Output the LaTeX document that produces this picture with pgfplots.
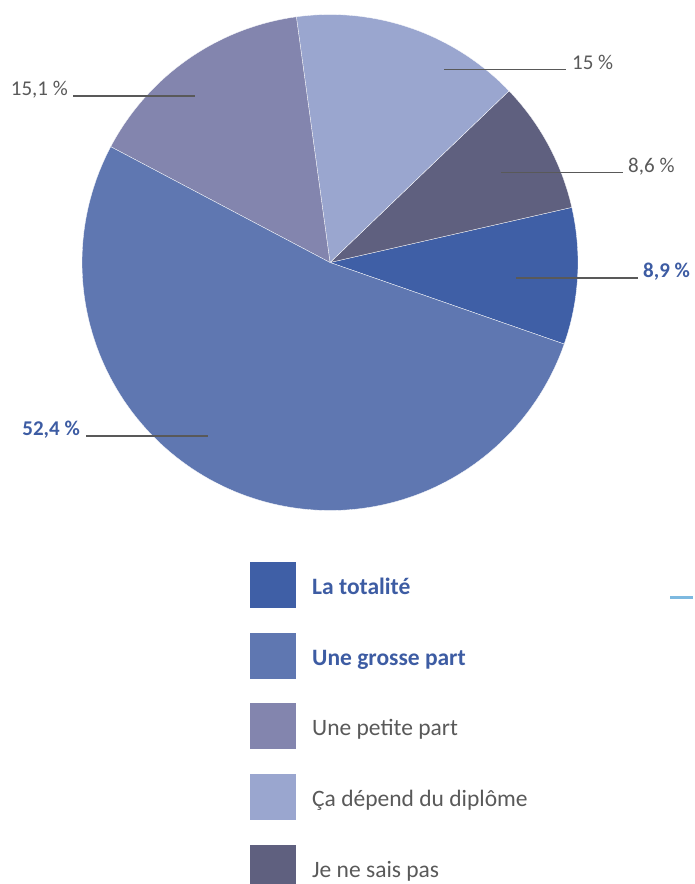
\documentclass[border=0pt]{standalone}
\usepackage{pgfplots}
\pgfplotsset{compat=1.18}
\usepackage{fontspec}
\setmainfont{Carlito}
\definecolor{cTot}{HTML}{3F5FA6}
\definecolor{cGro}{HTML}{5F77B1}
\definecolor{cPet}{HTML}{8385AE}
\definecolor{cDep}{HTML}{9AA6CF}
\definecolor{cNsp}{HTML}{5F607F}
\definecolor{tGray}{HTML}{595959}
\definecolor{tBlue}{HTML}{3D5CA3}
\definecolor{lGray}{HTML}{595959}
\definecolor{lBlue}{HTML}{7DB9E0}
\begin{document}
\begin{tikzpicture}
\begin{axis}[
  width=693bp, height=884bp, scale only axis,
  xmin=0, xmax=693, ymin=0, ymax=884, y dir=reverse,
  hide axis, clip=false,
]
\path (axis cs:0,0) rectangle (axis cs:693,884);
% pie: start angle -19.2, values in percent (3.6 deg per percent)
\def\st{-19.2}
\addplot[fill=cTot, draw=white, line width=0.3pt, domain={\st}:{\st+3.6*8.9}, samples=40, variable=\t]
  ({330+248*cos(\t)},{262.5-248*sin(\t)}) -- (axis cs:330,262.5) -- cycle;
\addplot[fill=cNsp, draw=white, line width=0.3pt, domain={\st+3.6*8.9}:{\st+3.6*17.5}, samples=40, variable=\t]
  ({330+248*cos(\t)},{262.5-248*sin(\t)}) -- (axis cs:330,262.5) -- cycle;
\addplot[fill=cDep, draw=white, line width=0.3pt, domain={\st+3.6*17.5}:{\st+3.6*32.5}, samples=50, variable=\t]
  ({330+248*cos(\t)},{262.5-248*sin(\t)}) -- (axis cs:330,262.5) -- cycle;
\addplot[fill=cPet, draw=white, line width=0.3pt, domain={\st+3.6*32.5}:{\st+3.6*47.6}, samples=50, variable=\t]
  ({330+248*cos(\t)},{262.5-248*sin(\t)}) -- (axis cs:330,262.5) -- cycle;
\addplot[fill=cGro, draw=white, line width=0.3pt, domain={\st+3.6*47.6}:{\st+3.6*100}, samples=120, variable=\t]
  ({330+248*cos(\t)},{262.5-248*sin(\t)}) -- (axis cs:330,262.5) -- cycle;
% leader lines
\addplot[lGray, line width=1.8pt] coordinates {(73,95.7) (195,95.7)};
\addplot[lGray, line width=1.8pt] coordinates {(444,69.5) (566,69.5)};
\addplot[lGray, line width=1.8pt] coordinates {(501,172.4) (623,172.4)};
\addplot[lGray, line width=1.8pt] coordinates {(516,277.7) (638,277.7)};
\addplot[lGray, line width=1.8pt] coordinates {(86,435.7) (208,435.7)};
% labels
\node[anchor=base east, inner sep=0, font=\fontsize{21bp}{25bp}\selectfont, text=tGray] at (axis cs:68,95.7) {15,1~\%};
\node[anchor=base west, inner sep=0, font=\fontsize{21bp}{25bp}\selectfont, text=tGray] at (axis cs:572,69.5) {15~\%};
\node[anchor=base west, inner sep=0, font=\fontsize{21bp}{25bp}\selectfont, text=tGray] at (axis cs:628,172.4) {8,6~\%};
\node[anchor=base west, inner sep=0, font=\bfseries\fontsize{21bp}{25bp}\selectfont, text=tBlue] at (axis cs:643,277.7) {8,9~\%};
\node[anchor=base east, inner sep=0, font=\bfseries\fontsize{21bp}{25bp}\selectfont, text=tBlue] at (axis cs:80,435.7) {52,4~\%};
% legend
\addplot[fill=cTot, draw=none] coordinates {(250,562) (296,562) (296,608) (250,608)} -- cycle;
\addplot[fill=cGro, draw=none] coordinates {(250,633) (296,633) (296,679) (250,679)} -- cycle;
\addplot[fill=cPet, draw=none] coordinates {(250,703) (296,703) (296,749) (250,749)} -- cycle;
\addplot[fill=cDep, draw=none] coordinates {(250,774) (296,774) (296,820) (250,820)} -- cycle;
\addplot[fill=cNsp, draw=none] coordinates {(250,845) (296,845) (296,884) (250,884)} -- cycle;
\node[anchor=base west, inner sep=0, font=\bfseries\fontsize{23.5bp}{28bp}\selectfont, text=tBlue] at (axis cs:312,594) {La totalité};
\node[anchor=base west, inner sep=0, font=\bfseries\fontsize{23.5bp}{28bp}\selectfont, text=tBlue] at (axis cs:312,665) {Une grosse part};
\node[anchor=base west, inner sep=0, font=\fontsize{23.5bp}{28bp}\selectfont, text=tGray] at (axis cs:312,735.5) {Une petite part};
\node[anchor=base west, inner sep=0, font=\fontsize{23.5bp}{28bp}\selectfont, text=tGray] at (axis cs:312,806) {Ça dépend du diplôme};
\node[anchor=base west, inner sep=0, font=\fontsize{23.5bp}{28bp}\selectfont, text=tGray] at (axis cs:312,877) {Je ne sais pas};
% stray accent line at right edge
\addplot[lBlue, line width=3pt] coordinates {(670,597) (693,597)};
\end{axis}
\end{tikzpicture}
\end{document}
